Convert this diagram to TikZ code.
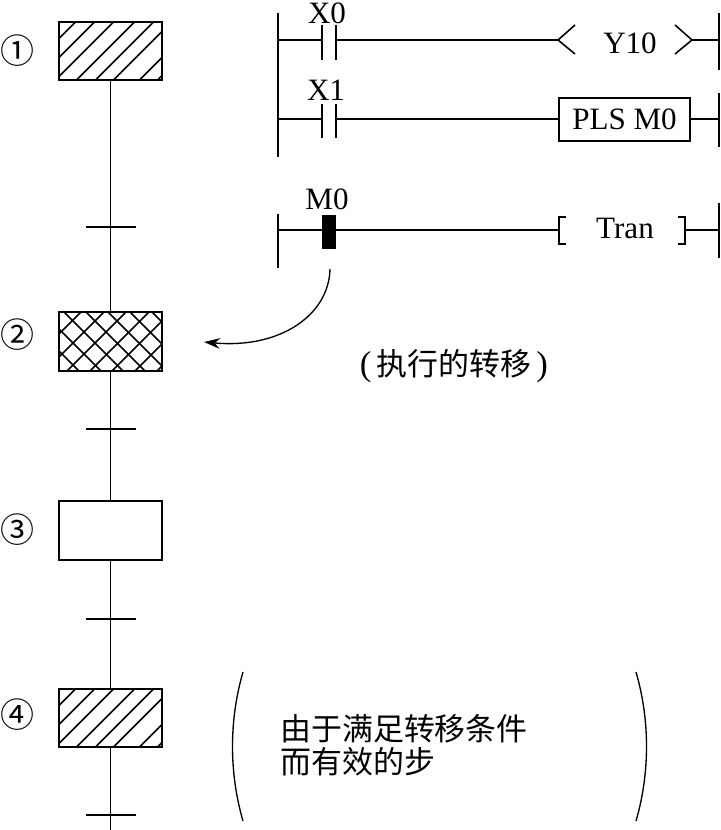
\documentclass[tikz,border=0pt]{standalone}
\usepackage{fontspec}
\setmainfont{Liberation Serif}
\newfontfamily\cjk{Noto Sans CJK SC}
\usetikzlibrary{arrows.meta}
\tikzset{
  wire/.style={line width=1.2pt,line cap=butt},
  mainwire/.style={line width=1.4pt,line cap=butt},
  thinwire/.style={line width=1pt},
  latin/.style={inner sep=0pt,font=\fontsize{23.3}{25}\selectfont},
  cn/.style={inner sep=0pt,font=\cjk\fontsize{23.2}{25}\selectfont},
  num/.style={inner sep=0pt,font=\cjk\fontsize{25.5}{27}\selectfont},
  stepbox/.style={draw,line width=1.3pt,minimum width=77.25pt,minimum height=44pt,inner sep=0pt,outer sep=0pt},
  hatchA/.style={stepbox,path picture={
    \foreach \c in {17,36,55,76,95,113,139,157}
      \draw[line width=1.1pt] ({-51.5+\c+5},{-29.5-5}) -- ({-51.5-5},{-29.5+\c+5});
  }},
  hatchX/.style={stepbox,path picture={
    \foreach \c in {0,22,45,67,90,112,135,157}
      \draw[line width=1.1pt] ({-51.5+\c+5},{-29.5-5}) -- ({-51.5-5},{-29.5+\c+5});
    \foreach \c in {-61,-39,-17,5,27,49,71,93}
      \draw[line width=1.1pt] ({-51.5+\c-5},{-29.5-5}) -- ({-51.5+\c+70},{-29.5+70});
  }},
}
\begin{document}
\begin{tikzpicture}[x=0.75pt,y=-0.75pt]
\useasboundingbox (0,0) rectangle (720,830);
% SFC steps
\node[hatchA] (s1) at (110.5,51) {};
\node[hatchX] (s2) at (110.5,341.5) {};
\node[stepbox] (s3) at (110.5,530.5) {};
\node[hatchA] (s4) at (110.5,718) {};
\node[num] (n1) at (17,51) {①};
\node[num] (n2) at (17,335) {②};
\node[num] (n3) at (17,530) {③};
\node[num] (n4) at (17.5,715) {④};
\coordinate (end) at (110.5,830);
\draw[mainwire] (s1) -- (s2);
\draw[mainwire] (s2) -- (s3);
\draw[mainwire] (s3) -- (s4);
\draw[mainwire] (s4) -- (end);
\foreach \n/\y in {t1/227,t2/429,t3/619,t4/815}{
  \coordinate (\n l) at (86,\y);
  \coordinate (\n r) at (136,\y);
  \draw[thinwire] (\n l) -- (\n r);
}
% rails
\coordinate (L1a) at (278,13); \coordinate (L1b) at (278,157);
\coordinate (R1a) at (719,13); \coordinate (R1b) at (719,70);
\coordinate (R2a) at (719,93); \coordinate (R2b) at (719,147);
\coordinate (L3a) at (278,214); \coordinate (L3b) at (278,268);
\coordinate (R3a) at (719,203); \coordinate (R3b) at (719,258);
\draw[wire] (L1a) -- (L1b);
\draw[wire] (R1a) -- (R1b);
\draw[wire] (R2a) -- (R2b);
\draw[wire] (L3a) -- (L3b);
\draw[wire] (R3a) -- (R3b);
% rung 1
\coordinate (a1) at (278,40); \coordinate (a2) at (322,40);
\coordinate (a3) at (336,40); \coordinate (a4) at (558,40);
\coordinate (a5) at (692,40); \coordinate (a6) at (719,40);
\draw[wire] (a1) -- (a2);
\draw[wire] (a3) -- (a4);
\draw[wire] (a5) -- (a6);
\draw[wire] (322,25) -- (a2) -- (322,60);
\draw[wire] (336,25) -- (a3) -- (336,60);
\draw[wire] (575,25) -- (a4) -- (575,54);
\draw[wire] (675,25) -- (a5) -- (675,54);
\node[latin] (x0) at (327,13.5) {X0};
\node[latin] (y10) at (630,43) {Y10};
% rung 2
\node[draw,line width=1.2pt,minimum width=98.25pt,minimum height=32pt,inner sep=0pt,latin] (pls) at (624.5,119.5) {PLS M0};
\coordinate (b1) at (278,119); \coordinate (b2) at (322,119);
\coordinate (b3) at (336,119); \coordinate (b6) at (719,119);
\draw[wire] (b1) -- (b2);
\draw[wire] (b3) -- (pls.west |- b3);
\draw[wire] (pls.east |- b3) -- (b6);
\draw[wire] (322,104) -- (b2) -- (322,138);
\draw[wire] (336,104) -- (b3) -- (336,138);
\node[latin] (x1) at (326,90) {X1};
% rung 3
\node[fill=black,minimum width=10.5pt,minimum height=25.5pt,inner sep=0pt,outer sep=0pt] (m0) at (329,232) {};
\coordinate (c1) at (278,230); \coordinate (c4) at (559,230);
\coordinate (c5) at (685,230); \coordinate (c6) at (719,230);
\draw[wire] (c1) -- (m0.west |- c1);
\draw[wire] (m0.east |- c1) -- (c4);
\draw[wire] (c5) -- (c6);
\draw[wire] (566,217) -- (559,217) -- (559,244) -- (566,244);
\draw[wire] (678,217) -- (685,217) -- (685,244) -- (678,244);
\node[latin] (m0t) at (327,199) {M0};
\node[latin] (tran) at (625,228) {Tran};
% curved arrow
\coordinate (ar0) at (330,269);
\coordinate (ar1) at (204,342);
\draw[thinwire,-{Stealth[length=12pt,width=8pt]}] (ar0) .. controls (329,315) and (280,349) .. (ar1);
\node[cn] (exec) at (454,366) {{\rmfamily\fontsize{26}{26}\selectfont(}\,执行的转移\,{\rmfamily\fontsize{26}{26}\selectfont)}};
% bracket note
\coordinate (p1a) at (243,672); \coordinate (p1b) at (243,821);
\coordinate (p2a) at (636,672); \coordinate (p2b) at (636,821);
\draw[thinwire] (p1a) .. controls (229,720) and (229,773) .. (p1b);
\draw[thinwire] (p2a) .. controls (650,720) and (650,773) .. (p2b);
\node[cn,anchor=west,align=left,font=\cjk\fontsize{23.2}{24.5}\selectfont] (cond) at (280,745) {由于满足转移条件\\而有效的步};
\end{tikzpicture}
\end{document}
